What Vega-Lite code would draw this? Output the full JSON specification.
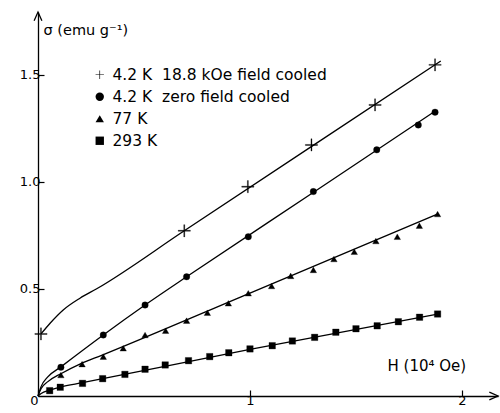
{
  "$schema": "https://vega.github.io/schema/vega-lite/v6.json",
  "width": 460,
  "height": 384,
  "autosize": {"type": "none"},
  "padding": {"left": 38, "top": 12, "right": 2, "bottom": 17},
  "background": "white",
  "config": {
    "view": {"stroke": null},
    "font": "DejaVu Sans",
    "axis": {"grid": false, "domainColor": "black", "domainWidth": 1.3, "tickColor": "black", "tickWidth": 1.2, "labelColor": "black", "titleColor": "black", "labelFont": "DejaVu Sans", "titleFont": "DejaVu Sans", "titleFontWeight": "normal"}
  },
  "data": {"values": [
    {"s": "4.2 K\u00a0\u00a018.8 kOe field cooled", "k": "c", "H": 0.014, "sigma": 0.29},
    {"s": "4.2 K\u00a0\u00a018.8 kOe field cooled", "k": "c", "H": 0.057, "sigma": 0.34},
    {"s": "4.2 K\u00a0\u00a018.8 kOe field cooled", "k": "c", "H": 0.119, "sigma": 0.402},
    {"s": "4.2 K\u00a0\u00a018.8 kOe field cooled", "k": "c", "H": 0.198, "sigma": 0.457},
    {"s": "4.2 K\u00a0\u00a018.8 kOe field cooled", "k": "c", "H": 0.277, "sigma": 0.501},
    {"s": "4.2 K\u00a0\u00a018.8 kOe field cooled", "k": "c", "H": 0.69, "sigma": 0.772},
    {"s": "4.2 K\u00a0\u00a018.8 kOe field cooled", "k": "c", "H": 1.3, "sigma": 1.172},
    {"s": "4.2 K\u00a0\u00a018.8 kOe field cooled", "k": "c", "H": 1.9, "sigma": 1.565},
    {"s": "4.2 K\u00a0\u00a018.8 kOe field cooled", "k": "p", "H": 0.014, "sigma": 0.29},
    {"s": "4.2 K\u00a0\u00a018.8 kOe field cooled", "k": "p", "H": 0.69, "sigma": 0.772},
    {"s": "4.2 K\u00a0\u00a018.8 kOe field cooled", "k": "p", "H": 0.99, "sigma": 0.978},
    {"s": "4.2 K\u00a0\u00a018.8 kOe field cooled", "k": "p", "H": 1.29, "sigma": 1.173},
    {"s": "4.2 K\u00a0\u00a018.8 kOe field cooled", "k": "p", "H": 1.59, "sigma": 1.36},
    {"s": "4.2 K\u00a0\u00a018.8 kOe field cooled", "k": "p", "H": 1.873, "sigma": 1.547},

    {"s": "4.2 K\u00a0\u00a0zero field cooled", "k": "c", "H": 0.0, "sigma": 0.0},
    {"s": "4.2 K\u00a0\u00a0zero field cooled", "k": "c", "H": 0.015, "sigma": 0.045},
    {"s": "4.2 K\u00a0\u00a0zero field cooled", "k": "c", "H": 0.045, "sigma": 0.088},
    {"s": "4.2 K\u00a0\u00a0zero field cooled", "k": "c", "H": 0.108, "sigma": 0.136},
    {"s": "4.2 K\u00a0\u00a0zero field cooled", "k": "c", "H": 0.308, "sigma": 0.285},
    {"s": "4.2 K\u00a0\u00a0zero field cooled", "k": "c", "H": 0.505, "sigma": 0.425},
    {"s": "4.2 K\u00a0\u00a0zero field cooled", "k": "c", "H": 0.701, "sigma": 0.557},
    {"s": "4.2 K\u00a0\u00a0zero field cooled", "k": "c", "H": 1.3, "sigma": 0.952},
    {"s": "4.2 K\u00a0\u00a0zero field cooled", "k": "c", "H": 1.873, "sigma": 1.331},
    {"s": "4.2 K\u00a0\u00a0zero field cooled", "k": "p", "H": 0.108, "sigma": 0.134},
    {"s": "4.2 K\u00a0\u00a0zero field cooled", "k": "p", "H": 0.308, "sigma": 0.285},
    {"s": "4.2 K\u00a0\u00a0zero field cooled", "k": "p", "H": 0.505, "sigma": 0.425},
    {"s": "4.2 K\u00a0\u00a0zero field cooled", "k": "p", "H": 0.701, "sigma": 0.557},
    {"s": "4.2 K\u00a0\u00a0zero field cooled", "k": "p", "H": 0.992, "sigma": 0.744},
    {"s": "4.2 K\u00a0\u00a0zero field cooled", "k": "p", "H": 1.299, "sigma": 0.955},
    {"s": "4.2 K\u00a0\u00a0zero field cooled", "k": "p", "H": 1.598, "sigma": 1.15},
    {"s": "4.2 K\u00a0\u00a0zero field cooled", "k": "p", "H": 1.794, "sigma": 1.266},
    {"s": "4.2 K\u00a0\u00a0zero field cooled", "k": "p", "H": 1.873, "sigma": 1.326},

    {"s": "77 K", "k": "c", "H": 0.0, "sigma": 0.0},
    {"s": "77 K", "k": "c", "H": 0.015, "sigma": 0.035},
    {"s": "77 K", "k": "c", "H": 0.045, "sigma": 0.066},
    {"s": "77 K", "k": "c", "H": 0.108, "sigma": 0.104},
    {"s": "77 K", "k": "c", "H": 0.2, "sigma": 0.15},
    {"s": "77 K", "k": "c", "H": 0.3, "sigma": 0.19},
    {"s": "77 K", "k": "c", "H": 1.0, "sigma": 0.481},
    {"s": "77 K", "k": "c", "H": 1.885, "sigma": 0.85},
    {"s": "77 K", "k": "p", "H": 0.108, "sigma": 0.098},
    {"s": "77 K", "k": "p", "H": 0.208, "sigma": 0.149},
    {"s": "77 K", "k": "p", "H": 0.308, "sigma": 0.184},
    {"s": "77 K", "k": "p", "H": 0.402, "sigma": 0.223},
    {"s": "77 K", "k": "p", "H": 0.505, "sigma": 0.285},
    {"s": "77 K", "k": "p", "H": 0.602, "sigma": 0.305},
    {"s": "77 K", "k": "p", "H": 0.701, "sigma": 0.352},
    {"s": "77 K", "k": "p", "H": 0.799, "sigma": 0.389},
    {"s": "77 K", "k": "p", "H": 0.898, "sigma": 0.433},
    {"s": "77 K", "k": "p", "H": 0.992, "sigma": 0.48},
    {"s": "77 K", "k": "p", "H": 1.102, "sigma": 0.514},
    {"s": "77 K", "k": "p", "H": 1.192, "sigma": 0.561},
    {"s": "77 K", "k": "p", "H": 1.299, "sigma": 0.589},
    {"s": "77 K", "k": "p", "H": 1.396, "sigma": 0.64},
    {"s": "77 K", "k": "p", "H": 1.492, "sigma": 0.674},
    {"s": "77 K", "k": "p", "H": 1.594, "sigma": 0.724},
    {"s": "77 K", "k": "p", "H": 1.695, "sigma": 0.744},
    {"s": "77 K", "k": "p", "H": 1.799, "sigma": 0.796},
    {"s": "77 K", "k": "p", "H": 1.885, "sigma": 0.85},

    {"s": "293 K", "k": "c", "H": 0.0, "sigma": 0.0},
    {"s": "293 K", "k": "c", "H": 0.015, "sigma": 0.012},
    {"s": "293 K", "k": "c", "H": 0.055, "sigma": 0.027},
    {"s": "293 K", "k": "c", "H": 0.105, "sigma": 0.042},
    {"s": "293 K", "k": "c", "H": 0.21, "sigma": 0.062},
    {"s": "293 K", "k": "c", "H": 1.0, "sigma": 0.218},
    {"s": "293 K", "k": "c", "H": 1.885, "sigma": 0.383},
    {"s": "293 K", "k": "p", "H": 0.055, "sigma": 0.025},
    {"s": "293 K", "k": "p", "H": 0.105, "sigma": 0.041},
    {"s": "293 K", "k": "p", "H": 0.21, "sigma": 0.059},
    {"s": "293 K", "k": "p", "H": 0.305, "sigma": 0.081},
    {"s": "293 K", "k": "p", "H": 0.41, "sigma": 0.101},
    {"s": "293 K", "k": "p", "H": 0.505, "sigma": 0.125},
    {"s": "293 K", "k": "p", "H": 0.6, "sigma": 0.145},
    {"s": "293 K", "k": "p", "H": 0.71, "sigma": 0.165},
    {"s": "293 K", "k": "p", "H": 0.81, "sigma": 0.184},
    {"s": "293 K", "k": "p", "H": 0.9, "sigma": 0.202},
    {"s": "293 K", "k": "p", "H": 1.0, "sigma": 0.22},
    {"s": "293 K", "k": "p", "H": 1.105, "sigma": 0.235},
    {"s": "293 K", "k": "p", "H": 1.2, "sigma": 0.257},
    {"s": "293 K", "k": "p", "H": 1.305, "sigma": 0.274},
    {"s": "293 K", "k": "p", "H": 1.405, "sigma": 0.298},
    {"s": "293 K", "k": "p", "H": 1.5, "sigma": 0.314},
    {"s": "293 K", "k": "p", "H": 1.6, "sigma": 0.328},
    {"s": "293 K", "k": "p", "H": 1.7, "sigma": 0.347},
    {"s": "293 K", "k": "p", "H": 1.8, "sigma": 0.368},
    {"s": "293 K", "k": "p", "H": 1.885, "sigma": 0.383}
  ]},
  "encoding": {
    "x": {"field": "H", "type": "quantitative", "scale": {"domain": [0, 2.17], "nice": false, "zero": false},
      "axis": {"values": [0, 1, 2], "format": "d", "tickSize": -6, "labelPadding": 4, "labelFontSize": 13,
        "labelAlign": {"condition": {"test": "datum.value == 0", "value": "right"}, "value": "center"},
        "title": "H (10\u2074 Oe)", "titleFontSize": 15, "titleX": 349, "titleY": -31, "titleAlign": "left", "titleBaseline": "middle", "titleAngle": 0}},
    "y": {"field": "sigma", "type": "quantitative", "scale": {"domain": [0, 1.794], "nice": false, "zero": false},
      "axis": {"values": [0.5, 1.0, 1.5], "format": ".1f", "tickSize": -6, "labelPadding": 4, "labelFontSize": 13,
        "title": "\u03c3 (emu g\u207b\u00b9)", "titleFontSize": 14.5, "titleX": 5, "titleY": 18, "titleAlign": "left", "titleBaseline": "middle", "titleAngle": 0}}
  },
  "layer": [
    {
      "transform": [{"filter": "datum.k == 'c'"}],
      "mark": {"type": "line", "interpolate": "monotone", "color": "black", "strokeWidth": 1.3},
      "encoding": {"detail": {"field": "s"}}
    },
    {
      "transform": [{"filter": "datum.k == 'p'"}],
      "mark": {"type": "point", "filled": true, "fill": "black", "stroke": "black", "strokeWidth": 0.3, "opacity": 1},
      "encoding": {
        "shape": {"field": "s", "type": "nominal",
          "scale": {"domain": ["4.2 K\u00a0\u00a018.8 kOe field cooled", "4.2 K\u00a0\u00a0zero field cooled", "77 K", "293 K"],
            "range": ["M-1,-0.08H-0.08V-1H0.08V-0.08H1V0.08H0.08V1H-0.08V0.08H-1Z", "circle", "triangle-up", "square"]},
          "legend": {"title": null, "orient": "none", "legendX": 54, "legendY": 55, "padding": 0,
            "labelFont": "DejaVu Sans", "labelFontSize": 15.5, "labelColor": "black", "labelOffset": 5, "rowPadding": 5, "labelLimit": 400,
            "symbolSize": 70, "symbolFillColor": "black", "symbolStrokeColor": "black", "symbolStrokeWidth": 0.6, "symbolOpacity": 1}},
        "size": {"condition": {"test": "indexof(datum.s, 'kOe') >= 0", "value": 150}, "value": 42}
      }
    },
    {
      "data": {"values": [{"H": 2.17, "sigma": 0}]},
      "mark": {"type": "point", "shape": "M-1,-0.45L0,0L-1,0.45", "filled": false, "stroke": "black", "strokeWidth": 1.3, "size": 300, "opacity": 1}
    },
    {
      "data": {"values": [{"H": 0, "sigma": 1.794}]},
      "mark": {"type": "point", "shape": "M-0.45,1L0,0L0.45,1", "filled": false, "stroke": "black", "strokeWidth": 1.3, "size": 300, "opacity": 1}
    }
  ]
}
